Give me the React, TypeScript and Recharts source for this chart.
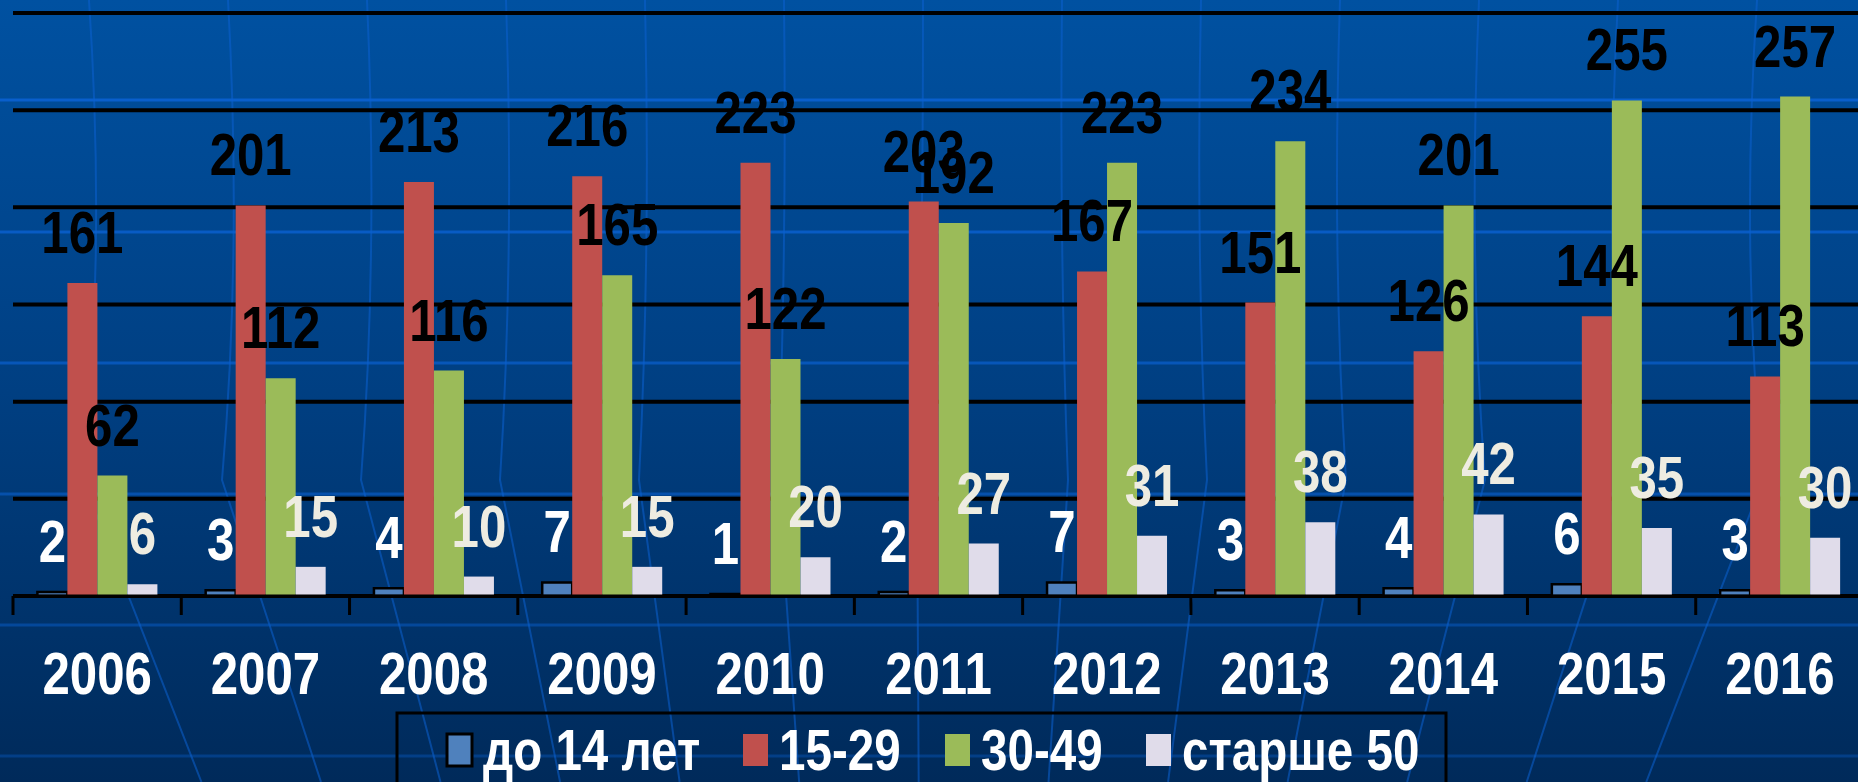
import { Bar, BarChart, CartesianGrid, LabelList, XAxis, YAxis } from "recharts";

const years = ["2006", "2007", "2008", "2009", "2010", "2011", "2012", "2013", "2014", "2015", "2016"];
const under14 = [2, 3, 4, 7, 1, 2, 7, 3, 4, 6, 3];
const age15to29 = [161, 201, 213, 216, 223, 203, 167, 151, 126, 144, 113];
const age30to49 = [62, 112, 116, 165, 122, 192, 223, 234, 201, 255, 257];
const over50 = [6, 15, 10, 15, 20, 27, 31, 38, 42, 35, 30];
const seriesNames = ["до 14 лет", "15-29", "30-49", "старше 50"];
const yTicks = [0, 50, 100, 150, 200, 250, 300];

const W = 1858;
const H = 782;
const CHART_W = 1864;
const LEFT = 13;
const BAND = (CHART_W - LEFT) / years.length;
const FONT = '"Liberation Sans", Arial, sans-serif';
const SQUEEZE = 0.82;

const series = [
  { key: "u14", name: seriesNames[0], fill: "#4F81BD", stroke: "#000", label: "#FFFFFF" },
  { key: "a15", name: seriesNames[1], fill: "#C0504D", stroke: "none", label: "#000000" },
  { key: "a30", name: seriesNames[2], fill: "#9BBB59", stroke: "none", label: "#000000" },
  { key: "o50", name: seriesNames[3], fill: "#E0DCEA", stroke: "none", label: "#EEECE1" }
];

// legend item x positions (marker left edge)
const legendX = [447, 743, 945, 1146];

const data = years.map((year, i) => ({
  year,
  u14: under14[i],
  a15: age15to29[i],
  a30: age30to49[i],
  o50: over50[i]
}));

function NarrowText({ x, y, size, color, anchor = "middle", children }: any) {
  return (
    <text
      transform={`translate(${x} ${y}) scale(${SQUEEZE} 1)`}
      x={0}
      y={0}
      textAnchor={anchor}
      fill={color}
      fontFamily={FONT}
      fontWeight="bold"
      fontSize={size}
    >
      {children}
    </text>
  );
}

const valueLabel = (color: string) => (props: any) => {
  const x = props.x ?? props.viewBox?.x;
  const y = props.y ?? props.viewBox?.y;
  const w = props.width ?? props.viewBox?.width ?? 0;
  return (
    <NarrowText x={x + w / 2} y={y - 30} size={60} color={color}>
      {props.value}
    </NarrowText>
  );
};

function YearTick(props: any) {
  const { x, y, payload, index } = props;
  return (
    <g>
      <line x1={x - BAND / 2} x2={x - BAND / 2} y1={y} y2={y + 19} stroke="#000" strokeWidth={3} />
      {index === years.length - 1 && (
        <line x1={x + BAND / 2} x2={x + BAND / 2} y1={y} y2={y + 19} stroke="#000" strokeWidth={3} />
      )}
      <NarrowText x={x} y={y + 98} size={60} color="#fff">
        {payload.value}
      </NarrowText>
    </g>
  );
}

function Backdrop() {
  const hLines = [100, 232, 363, 494, 625, 756];
  const meridians = Array.from({ length: 13 }, (_, k) => 89 + 139 * k);
  const c = 929;
  return (
    <svg width={W} height={H} style={{ position: "absolute", left: 0, top: 0 }}>
      <defs>
        <linearGradient id="bg" x1="0" y1="0" x2="0" y2="1">
          <stop offset="0%" stopColor="#0051A1" />
          <stop offset="50%" stopColor="#003F82" />
          <stop offset="100%" stopColor="#002A5A" />
        </linearGradient>
      </defs>
      <rect width={W} height={H} fill="url(#bg)" />
      {hLines.map((y, i) => (
        <line key={y} x1={0} x2={W} y1={y} y2={y} stroke="#0B63D6" strokeWidth={3} opacity={0.85 - i * 0.1} />
      ))}
      {meridians.map((xt) => {
        const xm = xt + (xt < c ? -6 : 6);
        const xb = xm + (c - xm) * 0.14;
        return (
          <path
            key={xt}
            d={`M ${xt} 0 Q ${xt - (xt - c) * 0.02} 250 ${xm} 480 L ${xb} ${H}`}
            fill="none"
            stroke="#0B60D0"
            strokeWidth={2}
            opacity={0.55}
          />
        );
      })}
    </svg>
  );
}

function LegendBox() {
  return (
    <svg width={W} height={H} style={{ position: "absolute", left: 0, top: 0, pointerEvents: "none" }}>
      <rect x={397} y={713} width={1049} height={100} fill="none" stroke="#000" strokeWidth={3} />
      {series.map((s, i) => (
        <g key={s.key}>
          <rect
            x={legendX[i]}
            y={734}
            width={25}
            height={32}
            fill={s.fill}
            stroke={s.stroke === "none" ? "none" : "#000"}
            strokeWidth={3}
          />
          <NarrowText x={legendX[i] + 36} y={770} size={58} color="#fff" anchor="start">
            {s.name}
          </NarrowText>
        </g>
      ))}
    </svg>
  );
}

export default function App() {
  return (
    <div style={{ position: "fixed", left: 0, top: 0, width: W, height: H, overflow: "hidden" }}>
      <Backdrop />
      <div style={{ position: "absolute", left: 0, top: 0 }}>
        <BarChart
          width={CHART_W}
          height={H}
          data={data}
          margin={{ top: 13, right: 0, left: LEFT, bottom: 0 }}
          barCategoryGap="14.5%"
          barGap={0}
        >
          <CartesianGrid horizontal vertical={false} stroke="#000" strokeWidth={4} />
          <YAxis hide domain={[0, 300]} ticks={yTicks} />
          <XAxis
            dataKey="year"
            height={186}
            interval={0}
            tickLine={false}
            tickSize={0}
            tickMargin={0}
            axisLine={{ stroke: "#000", strokeWidth: 3 }}
            tick={<YearTick />}
          />
          {series.map((s) => (
            <Bar
              key={s.key}
              dataKey={s.key}
              name={s.name}
              fill={s.fill}
              stroke={s.stroke}
              strokeWidth={s.stroke === "none" ? 0 : 2.5}
              isAnimationActive={false}
            >
              <LabelList dataKey={s.key} content={valueLabel(s.label)} />
            </Bar>
          ))}
        </BarChart>
      </div>
      <LegendBox />
    </div>
  );
}
